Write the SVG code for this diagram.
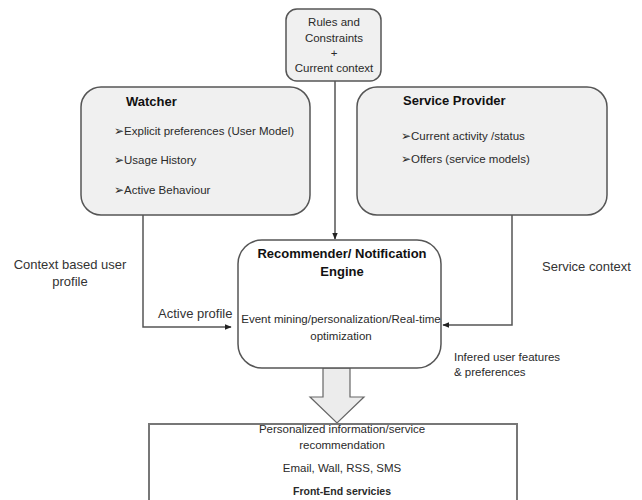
<svg xmlns="http://www.w3.org/2000/svg" width="642" height="500" viewBox="0 0 642 500">
  <style>
    text { font-family: "Liberation Sans", "DejaVu Sans", sans-serif; fill: #2a2a2a; }
    .t { font-size: 11.5px; }
    .lbl { font-size: 13px; fill: #333; }
    .title { font-size: 13px; font-weight: bold; fill: #111; }
    .mid { text-anchor: middle; }
    .box { fill: #f0f0f0; stroke: #555; stroke-width: 1.5; }
    .wbox { fill: #ffffff; stroke: #555; stroke-width: 1.5; }
    .conn { fill: none; stroke: #555; stroke-width: 1.5; }
    .bul { font-family: "DejaVu Sans", sans-serif; font-size: 12px; }
  </style>
  <defs>
    <marker id="tip" viewBox="0 0 10 10" refX="9" refY="5" markerWidth="7" markerHeight="7" markerUnits="userSpaceOnUse" orient="auto">
      <path d="M0,1 L10,5 L0,9 z" fill="#222"/>
    </marker>
  </defs>

  <!-- connectors -->
  <g id="connectors">
    <line class="conn" x1="335" y1="81" x2="335" y2="239" marker-end="url(#tip)"/>
    <polyline class="conn" points="143,215 143,327 231,327" marker-end="url(#tip)"/>
    <polyline class="conn" points="512,215 512,325 443,325" marker-end="url(#tip)"/>
    <!-- block arrow into the front-end box -->
    <polygon points="323,368 350,368 350,397 364,397 337,423 310,397 323,397" fill="#ececec" stroke="#666" stroke-width="1.2"/>
  </g>

  <g id="rules">
    <rect class="box" x="286" y="9" width="95" height="72" rx="11"/>
    <text class="t mid" x="334" y="26">Rules and</text>
    <text class="t mid" x="334" y="42">Constraints</text>
    <text class="t mid" x="334" y="57">+</text>
    <text class="t mid" x="334" y="72">Current context</text>
  </g>

  <g id="watcher">
    <rect class="box" x="81" y="87" width="229" height="128" rx="20"/>
    <text class="title" x="126" y="106">Watcher</text>
    <text class="t" x="114" y="135"><tspan class="bul">➢</tspan>Explicit preferences (User Model)</text>
    <text class="t" x="114" y="164"><tspan class="bul">➢</tspan>Usage History</text>
    <text class="t" x="114" y="194"><tspan class="bul">➢</tspan>Active Behaviour</text>
  </g>

  <g id="provider">
    <rect class="box" x="357" y="87" width="250" height="128" rx="20"/>
    <text class="title" x="403" y="105">Service Provider</text>
    <text class="t" x="401" y="140"><tspan class="bul">➢</tspan>Current activity /status</text>
    <text class="t" x="401" y="163"><tspan class="bul">➢</tspan>Offers (service models)</text>
  </g>

  <g id="engine">
    <rect class="wbox" x="238" y="240" width="203" height="128" rx="24"/>
    <text class="title mid" x="342" y="258">Recommender/ Notification</text>
    <text class="title mid" x="342" y="276">Engine</text>
    <text class="t mid" x="341" y="323">Event mining/personalization/Real-time</text>
    <text class="t mid" x="341" y="340">optimization</text>
  </g>

  <g id="labels">
    <text class="lbl mid" x="70" y="269">Context based user</text>
    <text class="lbl mid" x="70" y="286">profile</text>
    <text class="lbl" x="158" y="318">Active profile</text>
    <text class="lbl" x="542" y="271">Service context</text>
    <text class="t" x="454" y="361">Infered user features</text>
    <text class="t" x="454" y="376">&amp; preferences</text>
  </g>

  <g id="frontend">
    <rect x="149" y="424" width="368" height="90" fill="#ffffff" stroke="#777" stroke-width="2"/>
    <text class="t mid" x="342" y="433">Personalized  information/service</text>
    <text class="t mid" x="342" y="449">recommendation</text>
    <text class="t mid" x="342" y="472">Email, Wall, RSS, SMS</text>
    <text class="mid" x="342" y="495" font-size="10.5px" font-weight="bold">Front-End servicies</text>
  </g>
</svg>
